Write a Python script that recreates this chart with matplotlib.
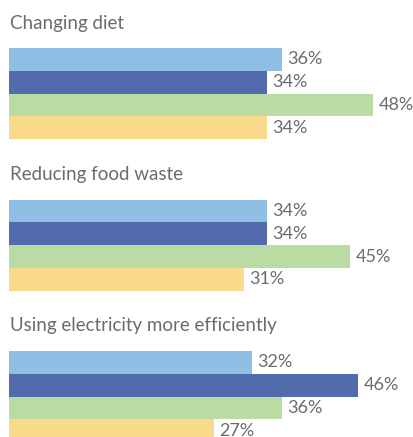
import matplotlib.pyplot as plt

# Werte
groups = ["Changing diet", "Reducing food waste", "Using electricity more efficiently"]
values = [
    [36, 34, 48, 34],
    [34, 34, 45, 31],
    [32, 46, 36, 27],
]
colors = ["#8fbfe4", "#526bad", "#badba3", "#f9da8a"]
text_col = "#6b6b70"

plt.rcParams['font.family'] = ['Lato', 'DejaVu Sans']

W, H = 414, 437
fig = plt.figure(figsize=(W / 100, H / 100), dpi=100)
ax = fig.add_axes([0, 0, 1, 1])

# Layout in Pixeln
px_per_pct = 7.58
x0 = 9
bar_h = 22.8
group_top = 48
group_step = 151.5

ax.set_xlim(-x0 / px_per_pct, (W - x0) / px_per_pct)
ax.set_ylim(H, 0)
ax.axis('off')

for g, name in enumerate(groups):
    top = group_top + g * group_step
    ax.text(0.1, top - 19.5, name, fontsize=13.5, color=text_col, va='baseline', ha='left')
    for i, v in enumerate(values[g]):
        yc = top + (i + 0.5) * bar_h
        ax.barh(yc, v, height=bar_h, color=colors[i], linewidth=0)
        ax.text(v + 0.75, yc, "%d%%" % v, fontsize=13, color=text_col, va='center', ha='left')

fig.savefig("out.png", dpi=100)
